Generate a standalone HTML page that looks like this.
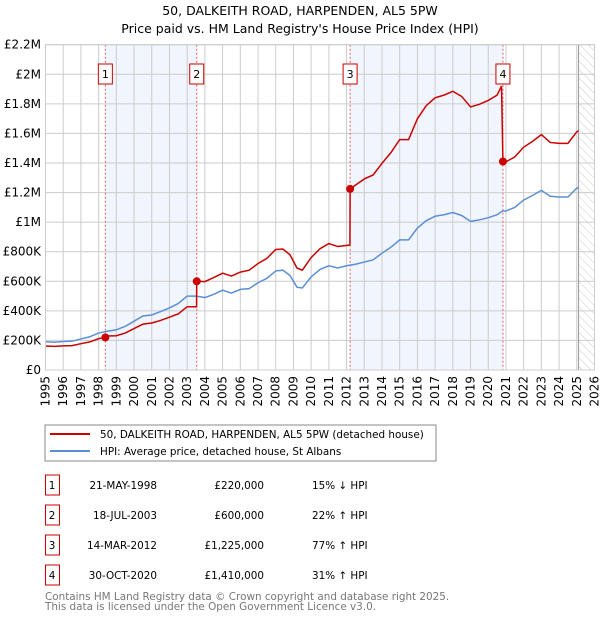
<!DOCTYPE html>
<html><head><meta charset="utf-8"><style>
body{margin:0;background:#fff;font-family:"Liberation Sans","DejaVu Sans",sans-serif}
svg text{font-family:"DejaVu Sans","Liberation Sans",sans-serif}
</style></head><body>
<svg id="c" width="600" height="620" xmlns="http://www.w3.org/2000/svg">
<defs><pattern id="hatch" width="6" height="6" patternUnits="userSpaceOnUse" patternTransform="rotate(-45)"><line x1="0" y1="0" x2="0" y2="6" stroke="#ccc" stroke-width="1"/></pattern></defs>
<text x="300" y="15" text-anchor="middle" font-size="12.5">50, DALKEITH ROAD, HARPENDEN, AL5 5PW</text>
<text x="300" y="33" text-anchor="middle" font-size="12.5">Price paid vs. HM Land Registry's House Price Index (HPI)</text>
<g id="plot"></g>
<rect x="45" y="425" width="391" height="36" fill="#fff" stroke="#888"/>
<line x1="50" y1="434" x2="90" y2="434" stroke="#cc0000" stroke-width="2"/>
<text x="100" y="438" font-size="10.4">50, DALKEITH ROAD, HARPENDEN, AL5 5PW (detached house)</text>
<line x1="50" y1="451" x2="90" y2="451" stroke="#5b8fd4" stroke-width="2"/>
<text x="100" y="455" font-size="10.4">HPI: Average price, detached house, St Albans</text>
<g id="table" font-size="10.4"></g>
<text x="45" y="600" font-size="10.4" fill="#777">Contains HM Land Registry data © Crown copyright and database right 2025.</text>
<text x="45" y="610" font-size="10.4" fill="#777">This data is licensed under the Open Government Licence v3.0.</text>
</svg>
<script>
const hpiDates=[1995,1995.5,1996,1996.5,1997,1997.5,1998,1998.5,1999,1999.5,2000,2000.5,2001,2001.5,2002,2002.5,2003,2003.5,2004,2004.5,2005,2005.5,2006,2006.5,2007,2007.5,2008,2008.4,2008.8,2009.2,2009.5,2010,2010.5,2011,2011.5,2012,2012.5,2013,2013.5,2014,2014.5,2015,2015.5,2016,2016.5,2017,2017.5,2018,2018.5,2019,2019.5,2020,2020.5,2020.8,2021,2021.5,2022,2022.5,2023,2023.5,2024,2024.5,2025,2025.1];
const hpiVals=[191,188,193,195,210,225,250,262,272,295,330,365,372,395,420,450,500,500,490,512,540,520,545,550,590,620,670,675,640,560,555,630,680,705,690,705,715,730,745,790,830,880,880,960,1010,1040,1050,1065,1045,1005,1015,1030,1050,1075,1075,1100,1150,1180,1215,1175,1170,1170,1230,1235];
const priceDates=[1995,1995.5,1996,1996.5,1997,1997.5,1998,1998.38,1998.5,1999,1999.5,2000,2000.5,2001,2001.5,2002,2002.5,2003,2003.53,2003.54,2004,2004.5,2005,2005.5,2006,2006.5,2007,2007.5,2008,2008.4,2008.8,2009.2,2009.5,2010,2010.5,2011,2011.5,2012.19,2012.2,2013,2013.5,2014,2014.5,2015,2015.5,2016,2016.5,2017,2017.5,2018,2018.5,2019,2019.5,2020,2020.5,2020.75,2020.83,2021,2021.5,2022,2022.5,2023,2023.5,2024,2024.5,2025,2025.1];
const priceVals=[162,160,163,165,178,190,212,220,230,232,250,280,310,318,335,357,380,428,428,600,598,625,655,635,662,675,720,755,815,818,780,690,675,760,820,855,835,845,1225,1292,1319,1398,1469,1558,1558,1699,1788,1841,1859,1885,1850,1779,1797,1823,1859,1920,1410,1408,1441,1507,1546,1592,1539,1533,1533,1611,1618];
const saleNums=["1","2","3","4"];
const saleDates=[1998.38,2003.54,2012.2,2020.83];
const saleVals=[220,600,1225,1410];
const saleDateLabels=["21-MAY-1998","18-JUL-2003","14-MAR-2012","30-OCT-2020"];
const salePriceLabels=["£220,000","£600,000","£1,225,000","£1,410,000"];
const saleHpiLabels=["15% ↓ HPI","22% ↑ HPI","77% ↑ HPI","31% ↑ HPI"];
const yTicks=[0,200,400,600,800,1000,1200,1400,1600,1800,2000,2200];
const yTickLabels=["£0","£200K","£400K","£600K","£800K","£1M","£1.2M","£1.4M","£1.6M","£1.8M","£2M","£2.2M"];
const years=[1995,1996,1997,1998,1999,2000,2001,2002,2003,2004,2005,2006,2007,2008,2009,2010,2011,2012,2013,2014,2015,2016,2017,2018,2019,2020,2021,2022,2023,2024,2025,2026];
const X0=45.5,X1=594.5,Y0=370,Y1=44.7;
const xs=d=>X0+(d-1995)/31*(X1-X0);
const ys=v=>Y0-v/2200*(Y0-Y1);
const NS="http://www.w3.org/2000/svg";
const plot=document.getElementById('plot');
function mk(tag,attrs,parent){const e=document.createElementNS(NS,tag);for(const k in attrs)e.setAttribute(k,attrs[k]);(parent||plot).appendChild(e);return e;}
for(let i=0;i<4;i+=2){const r=mk('rect',{x:xs(saleDates[i]),y:Y1,width:xs(saleDates[i+1])-xs(saleDates[i]),height:Y0-Y1,fill:'#eef3fc',opacity:0.8});

}
const hz=mk('rect',{x:xs(2025.1),y:Y1,width:X1-xs(2025.1),height:Y0-Y1,fill:'url(#hatch)'});


years.forEach(y=>{const l=mk('line',{x1:xs(y),x2:xs(y),y1:Y1,y2:Y0,stroke:'#ccc','stroke-width':1});


const t=mk('text',{x:0,y:0,'font-size':12,'text-anchor':'end',transform:`translate(${xs(y)+4},${Y0+6}) rotate(-90)`});t.textContent=y;

});
yTicks.forEach((v,i)=>{const l=mk('line',{x1:X0,x2:X1,y1:ys(v),y2:ys(v),stroke:'#ccc','stroke-width':1});


const t=mk('text',{x:41,y:ys(v)+4,'font-size':12,'text-anchor':'end'});t.textContent=yTickLabels[i];

});
const el=mk('line',{x1:xs(2025.1),x2:xs(2025.1),y1:Y1,y2:Y0,stroke:'#999','stroke-width':1});


saleDates.forEach((d,i)=>{const l=mk('line',{x1:xs(d),x2:xs(d),y1:Y1,y2:Y0,stroke:'#e06060','stroke-width':1,'stroke-dasharray':'2,2'});


const b=mk('rect',{x:xs(d)-7,y:64,width:14,height:20,fill:'#fff',stroke:'#cc0000'});


const t=mk('text',{x:xs(d),y:78,'font-size':11,'text-anchor':'middle'});t.textContent=saleNums[i];

});
const hp=mk('polyline',{points:hpiDates.map((d,i)=>xs(d)+','+ys(hpiVals[i])).join(' '),fill:'none',stroke:'#5b8fd4','stroke-width':1.5});


const pp=mk('polyline',{points:priceDates.map((d,i)=>xs(d)+','+ys(priceVals[i])).join(' '),fill:'none',stroke:'#cc0000','stroke-width':1.5});


saleDates.forEach((d,i)=>{const c=mk('circle',{cx:xs(d),cy:ys(saleVals[i]),r:4,fill:'#cc0000'});

});
const fr=mk('rect',{x:X0,y:Y1,width:X1-X0,height:Y0-Y1,fill:'none',stroke:'#ccc'});


const tb=document.getElementById('table');
saleNums.forEach((n,i)=>{const y=475+i*30;
const b=mk('rect',{x:45.5,y:y,width:14,height:20,fill:'#fff',stroke:'#cc0000'},tb);


const cells=[[52,n,'middle'],[157,saleDateLabels[i],'end'],[264,salePriceLabels[i],'end'],[312,saleHpiLabels[i],'start']];
cells.forEach(c=>{const t=mk('text',{x:c[0],y:y+14,'text-anchor':c[2],'font-size':10.4},tb);t.textContent=c[1];

});});
</script>
</body></html>
